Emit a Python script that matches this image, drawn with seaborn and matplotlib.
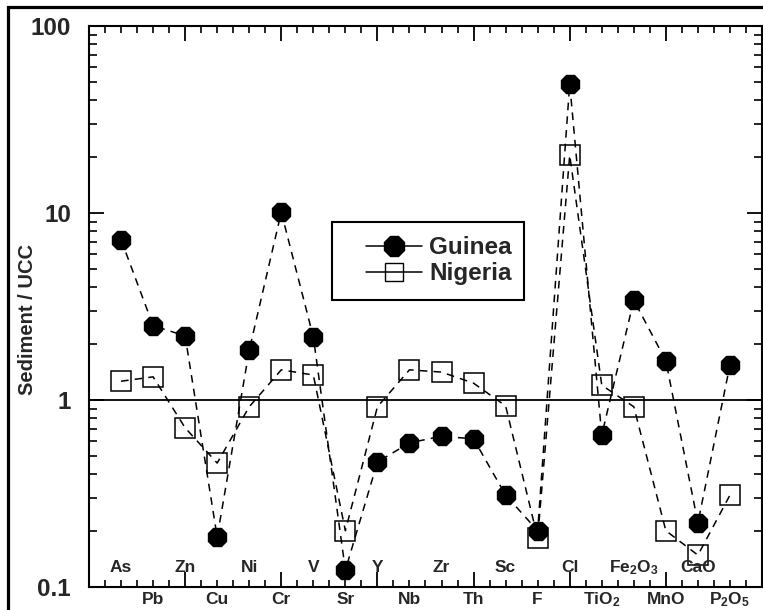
import seaborn as sns
import matplotlib.pyplot as plt
from matplotlib.lines import Line2D
from matplotlib.patches import Rectangle
from matplotlib.ticker import MultipleLocator, LogLocator, NullFormatter, FixedLocator, FixedFormatter
import matplotlib.transforms as mtransforms

elements = ["As", "Pb", "Zn", "Cu", "Ni", "Cr", "V", "Sr", "Y", "Nb", "Zr", "Th",
            "Sc", "F", "Cl", "TiO$_2$", "Fe$_2$O$_3$", "MnO", "CaO", "P$_2$O$_5$"]
guinea = [7.2, 2.5, 2.2, 0.185, 1.85, 10.1, 2.17, 0.123, 0.466, 0.59, 0.64, 0.62,
          0.31, 0.20, 49, 0.65, 3.42, 1.62, 0.22, 1.54]
nigeria = [1.26, 1.33, 0.71, 0.46, 0.92, 1.45, 1.36, 0.20, 0.92, 1.45, 1.41, 1.23,
           0.93, 0.183, 20.4, 1.2, 0.92, 0.20, 0.148, 0.31]
positions = list(range(1, len(elements) + 1))

sns.set_style("ticks")
plt.rcParams["font.family"] = ["Liberation Sans", "DejaVu Sans"]
plt.rcParams["font.weight"] = "bold"
plt.rcParams["mathtext.fontset"] = "custom"
plt.rcParams["mathtext.rm"] = "Liberation Sans:bold"
plt.rcParams["mathtext.bf"] = "Liberation Sans:bold"
plt.rcParams["mathtext.default"] = "bf"

fig = plt.figure(figsize=(7.63, 6.10), dpi=100)
ax = fig.add_axes([89 / 763, 23 / 610, 673 / 763, 561 / 610])

sns.lineplot(x=positions, y=guinea, ax=ax, color="black", lw=1.1,
             linestyle=(0, (5, 4)), marker="8", markersize=14.5,
             markerfacecolor="black", markeredgecolor="black", markeredgewidth=1)
sns.lineplot(x=positions, y=nigeria, ax=ax, color="black", lw=1.1,
             linestyle=(0, (5, 4)), marker="s", markersize=14,
             markerfacecolor="none", markeredgecolor="black", markeredgewidth=1.1)

ax.axhline(1, color="black", lw=1.3, zorder=1)

ax.set_yscale("log")
ax.set_ylim(0.1, 100)
ax.set_xlim(0, 21)

ax.yaxis.set_major_locator(FixedLocator([0.1, 1, 10, 100]))
ax.yaxis.set_major_formatter(FixedFormatter(["0.1", "1", "10", "100"]))
ax.yaxis.set_minor_locator(LogLocator(base=10, subs=range(2, 10)))
ax.yaxis.set_minor_formatter(NullFormatter())
ax.xaxis.set_major_locator(MultipleLocator(3))
ax.xaxis.set_minor_locator(MultipleLocator(0.5))
ax.set_xticklabels([])

ax.tick_params(axis="both", which="both", direction="in", top=True, right=True, color="black")
ax.tick_params(axis="y", which="major", length=11, width=1.3, labelsize=17.5, pad=13)
ax.tick_params(axis="y", which="minor", length=6, width=1.2)
ax.tick_params(axis="x", which="major", length=11, width=1.3)
ax.tick_params(axis="x", which="minor", length=5, width=1.2)
for lbl in ax.get_yticklabels():
    lbl.set_fontweight("bold")

for s in ax.spines.values():
    s.set_linewidth(1.5)
    s.set_color("black")

ax.set_ylabel("Sediment / UCC", fontsize=14.5, fontweight="bold")
ax.yaxis.set_label_coords(-0.078, 0.476)
ax.set_xlabel("")

trans = mtransforms.blended_transform_factory(ax.transData, ax.transAxes)
for i, (p, name) in enumerate(zip(positions, elements)):
    yy = 0.034 if i % 2 == 0 else -0.022
    ax.text(p, yy, name, transform=trans, ha="center", va="center",
            fontsize=12.5, fontweight="bold", clip_on=False)

# legend frame drawn separately so the box keeps the wide left margin
ax.add_patch(Rectangle((0.361, 0.512), 0.285, 0.139, transform=ax.transAxes,
                       facecolor="white", edgecolor="black", lw=1.5, zorder=4))
handles = [
    Line2D([0], [0], color="black", lw=1.1, marker="8", markersize=15,
           markerfacecolor="black", markeredgecolor="black"),
    Line2D([0], [0], color="black", lw=1.1, marker="s", markersize=13,
           markerfacecolor="none", markeredgecolor="black"),
]
leg = ax.legend(handles, ["Guinea", "Nigeria"], loc="center right",
                bbox_to_anchor=(0.646, 0.5815), frameon=False,
                prop={"size": 17.5, "weight": "bold"},
                handlelength=2.3, handletextpad=0.3, labelspacing=0.12,
                borderpad=0.5, borderaxespad=0)
leg.set_zorder(5)

fig.patches.append(Rectangle((8 / 763, -0.5), 2, 0.5 + 603 / 610, transform=fig.transFigure,
                             fill=False, edgecolor="black", lw=2.3))

fig.savefig("out.png", dpi=100)
